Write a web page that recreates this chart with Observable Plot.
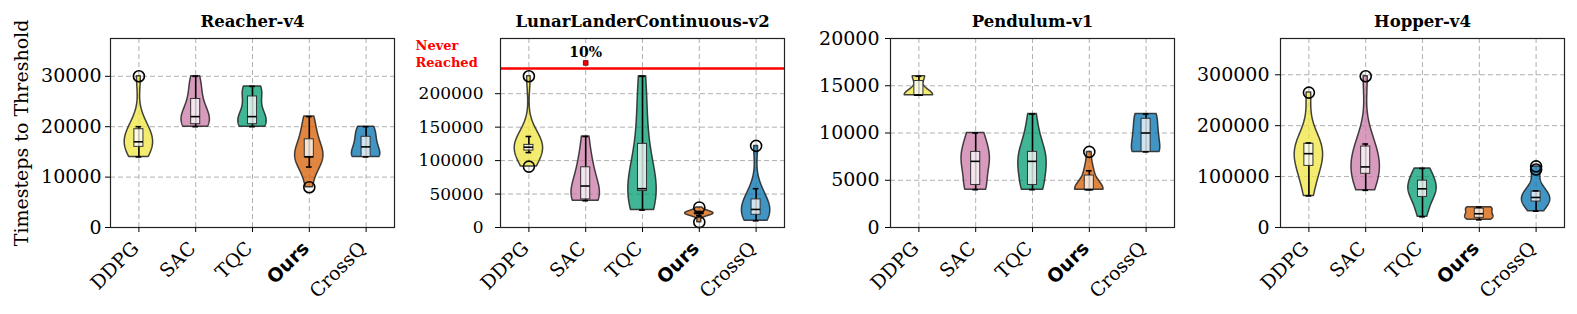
<!DOCTYPE html>
<html><head><meta charset="utf-8">
<script src="https://cdn.jsdelivr.net/npm/d3@7"></script>
<script src="https://cdn.jsdelivr.net/npm/@observablehq/plot@0.6"></script>
<style>
body{margin:0;background:#fff;width:1577px;height:314px;overflow:hidden;position:relative;font-family:"DejaVu Serif",serif}
.panel{position:absolute;top:0}
</style></head><body>
<script>
const algorithms = ["DDPG", "SAC", "TQC", "Ours", "CrossQ"];
const algoColors = ["#F0E442", "#CC79A7", "#009E73", "#D55E00", "#0072B2"];
const envTitles = ["Reacher-v4", "LunarLanderContinuous-v2", "Pendulum-v1", "Hopper-v4"];

// timesteps to threshold, one list per algorithm (seeds)
const reacherSamples = [
  [14000, 16000, 16000, 16000, 16000, 18000, 18000, 20000, 20000, 30000],
  [20000, 20000, 20000, 22000, 22000, 22000, 24000, 26000, 28000, 30000],
  [20000, 20000, 20000, 22000, 22000, 22000, 26000, 26000, 28000, 28000],
  [8000, 12000, 14000, 14000, 14000, 14000, 16000, 18000, 20000, 22000],
  [14000, 14000, 14000, 14000, 16000, 16000, 18000, 18000, 20000, 20000]
];
const lunarSamples = [
  [91000, 112000, 114000, 118000, 120000, 120000, 122000, 124000, 136000, 226000],
  [40000, 40000, 42000, 50000, 62000, 70000, 90000, 104000, 136000],
  [26000, 40000, 54000, 56000, 56000, 60000, 104000, 132000, 180000, 226000],
  [8000, 18000, 20000, 20000, 20000, 22000, 22000, 22000, 24000, 30000],
  [10000, 14000, 18000, 22000, 26000, 28000, 36000, 44000, 58000, 122000]
];
const pendulumSamples = [
  [14000, 14000, 14000, 14000, 14000, 14000, 14000, 16000, 16000, 16000],
  [4000, 4000, 4000, 6000, 7000, 7000, 8000, 8000, 10000, 10000],
  [4000, 4000, 4000, 6000, 7000, 7000, 8000, 8000, 10000, 12000],
  [4000, 4000, 4000, 4000, 4000, 4000, 4000, 6000, 6000, 8000],
  [8000, 8000, 8000, 8000, 10000, 10000, 10000, 12000, 12000, 12000]
];
const hopperSamples = [
  [62000, 90000, 120000, 124000, 140000, 150000, 160000, 166000, 166000, 265000],
  [73000, 90000, 104000, 110000, 116000, 122000, 150000, 162000, 164000, 297000],
  [21000, 40000, 58000, 66000, 74000, 78000, 86000, 94000, 110000, 116000],
  [15000, 16000, 18000, 22000, 26000, 28000, 34000, 38000, 40000, 40000],
  [32000, 44000, 50000, 54000, 58000, 60000, 66000, 72000, 114000, 120000]
];

const yTops = [37500, 282500, 20000, 371250];
const yTickSets = [
  [0, 10000, 20000, 30000],
  [0, 50000, 100000, 150000, 200000],
  [0, 5000, 10000, 15000, 20000],
  [0, 100000, 200000, 300000]
];
// LunarLander "never reached" level and the runs that never reached it
const neverReachedLevel = 237500;
const neverReachedRuns = [{algo: "SAC", y: 246000, label: "10%"}];

const allSamples = [reacherSamples, lunarSamples, pendulumSamples, hopperSamples];
const frameLefts = [110, 500, 890, 1280];
const frameWidth = 284;
const tickFont = [19, 17, 19, 19];
const tickGap = [9, 17, 11, 11];

function kde(s, n = 100) {
  const sd = d3.deviation(s);
  const bw = sd * Math.pow(s.length, -0.2);
  const lo = d3.min(s), hi = d3.max(s);
  const pts = d3.range(n).map(i => lo + (hi - lo) * i / (n - 1));
  const dens = pts.map(y => d3.sum(s, v => Math.exp(-0.5 * ((y - v) / bw) ** 2)));
  const mx = d3.max(dens);
  return pts.map((y, i) => ({y, w: dens[i] / mx * 0.25}));
}
function boxStats(s, pos) {
  const a = s.slice().sort((x, y) => x - y);
  const q1 = d3.quantile(a, 0.25), med = d3.quantile(a, 0.5), q3 = d3.quantile(a, 0.75);
  const iqr = q3 - q1;
  const lo = d3.min(a.filter(v => v >= q1 - 1.5 * iqr));
  const hi = d3.max(a.filter(v => v <= q3 + 1.5 * iqr));
  const out = a.filter(v => v < q1 - 1.5 * iqr || v > q3 + 1.5 * iqr);
  return {pos, q1, med, q3, lo, hi, out};
}

const ML = 105, MR = 12;
const bw2 = 0.08, cw = 0.05;

function panel(k) {
  const samples = allSamples[k];
  const grid = {stroke: "#b0b0b0", strokeOpacity: 1, strokeWidth: 1, strokeDasharray: "5,3"};
  const marks = [];
  marks.push(Plot.gridY(yTickSets[k], grid));
  marks.push(Plot.gridX([1, 2, 3, 4, 5], grid));
  samples.forEach((s, i) => {
    const pos = i + 1;
    const v = kde(s).map(p => ({y: p.y, x1: pos - p.w, x2: pos + p.w}));
    marks.push(Plot.areaX(v, {y: "y", x1: "x1", x2: "x2", fill: algoColors[i], fillOpacity: 0.75,
      stroke: "#222", strokeOpacity: 0.85, strokeWidth: 1.5}));
  });
  const stats = samples.map((s, i) => boxStats(s, i + 1));
  marks.push(Plot.ruleX(stats, {x: "pos", y1: "lo", y2: "hi", stroke: "black", strokeWidth: 1.6}));
  marks.push(Plot.rect(stats, {x1: d => d.pos - bw2, x2: d => d.pos + bw2, y1: "q1", y2: "q3",
    fill: "white", fillOpacity: 0.75, stroke: "#333", strokeWidth: 1}));
  marks.push(Plot.ruleY(stats, {y: "med", x1: d => d.pos - bw2, x2: d => d.pos + bw2, stroke: "black", strokeWidth: 1.6}));
  marks.push(Plot.ruleY(stats, {y: "lo", x1: d => d.pos - cw, x2: d => d.pos + cw, stroke: "black", strokeWidth: 1.6}));
  marks.push(Plot.ruleY(stats, {y: "hi", x1: d => d.pos - cw, x2: d => d.pos + cw, stroke: "black", strokeWidth: 1.6}));
  const outs = stats.flatMap(d => d.out.map(v => ({x: d.pos, y: v})));
  marks.push(Plot.dot(outs, {x: "x", y: "y", r: 5.5, stroke: "black", strokeWidth: 1.6, fill: "none"}));

  if (k === 1) {
    marks.push(Plot.ruleY([neverReachedLevel], {stroke: "red", strokeWidth: 2.5}));
    marks.push(Plot.dot(neverReachedRuns, {x: d => algorithms.indexOf(d.algo) + 1, y: "y", symbol: "square",
      r: 2.6, fill: "red", stroke: "#7a1010", strokeWidth: 1}));
    marks.push(Plot.text(neverReachedRuns, {x: d => algorithms.indexOf(d.algo) + 1, y: "y", text: "label",
      dy: -10, fontWeight: "bold", fontSize: 14, fontFamily: "DejaVu Serif"}));
    marks.push(Plot.text(["Never\nReached"], {x: 0.5, y: neverReachedLevel, text: d => d, textAnchor: "start",
      lineAnchor: "bottom", dx: -85, dy: -2, fill: "red", fontWeight: "bold", fontSize: 13, lineHeight: 1.3,
      fontFamily: "DejaVu Serif"}));
  }

  marks.push(Plot.frame({stroke: "#222", strokeWidth: 1.2}));
  marks.push(Plot.axisY(yTickSets[k], {tickSize: 5, tickFormat: () => "", label: null, stroke: "black"}));
  marks.push(Plot.text(yTickSets[k], {y: d => d, text: d => String(d), frameAnchor: "left", textAnchor: "end",
    dx: -tickGap[k], fontSize: tickFont[k], fontFamily: "DejaVu Serif", fill: "black"}));
  marks.push(Plot.axisX([1, 2, 3, 4, 5], {tickSize: 5, tickFormat: () => "", label: null, stroke: "black"}));
  const lab = algorithms.map((a, i) => ({a, x: i + 1}));
  marks.push(Plot.text(lab.filter(d => d.a !== "Ours"), {x: "x", text: "a", frameAnchor: "bottom", rotate: -45,
    textAnchor: "end", lineAnchor: "bottom", dx: 1, dy: 22, fontSize: 19, fontFamily: "DejaVu Serif", fill: "black"}));
  marks.push(Plot.text(lab.filter(d => d.a === "Ours"), {x: "x", text: "a", frameAnchor: "bottom", rotate: -45,
    textAnchor: "end", lineAnchor: "bottom", dx: 1, dy: 22, fontSize: 19, fontWeight: "bold", fontFamily: "DejaVu Sans", fill: "black"}));
  marks.push(Plot.text([envTitles[k]], {text: d => d, frameAnchor: "top", dy: -17, lineAnchor: "middle",
    fontWeight: "bold", fontSize: 16.5, fontFamily: "DejaVu Serif", fill: "black"}));
  if (k === 0) {
    marks.push(Plot.text(["Timesteps to Threshold"], {text: d => d, frameAnchor: "left", dx: -88.5, rotate: -90,
      lineAnchor: "middle", textAnchor: "middle", fontSize: 19, fontFamily: "DejaVu Serif", fill: "black"}));
  }

  const svg = Plot.plot({
    width: ML + frameWidth + MR, height: 314,
    marginLeft: ML, marginRight: MR, marginTop: 38, marginBottom: 87,
    x: {domain: [0.5, 5.5]},
    y: {domain: [0, yTops[k]]},
    style: {fontFamily: "DejaVu Serif", fontSize: "19px", background: "none", overflow: "visible", color: "black"},
    marks
  });
  const div = document.createElement("div");
  div.className = "panel";
  div.style.left = (frameLefts[k] - ML) + "px";
  div.appendChild(svg);
  document.body.appendChild(div);
}
[0, 1, 2, 3].forEach(panel);
</script>
</body></html>
